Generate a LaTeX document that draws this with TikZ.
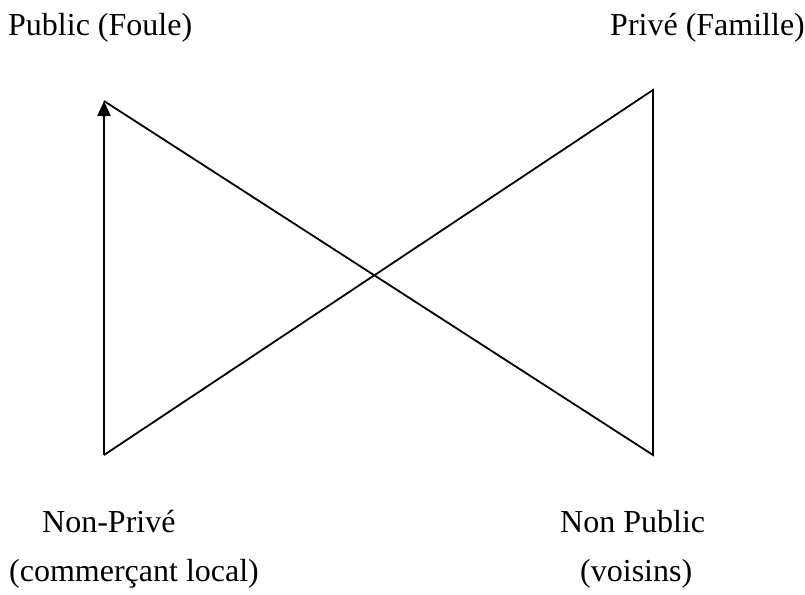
\documentclass[tikz,border=0pt]{standalone}
\usepackage{fontspec}
\setmainfont{Liberation Serif}
\usepackage{tikz}
\usetikzlibrary{arrows.meta}

\begin{document}
\begin{tikzpicture}[
  x=1pt, y=-1pt,
  font=\fontsize{32}{38}\selectfont,
  lbl/.style={anchor=base west, inner sep=0pt},
  edge/.style={line width=1.8pt, line join=miter},
  arr/.style={-{Triangle[width=13pt,length=15pt]}, line width=2.2pt}
]
\useasboundingbox (0,0) rectangle (805,594);
% corners of the bow-tie
\coordinate (pubtop) at (104,101);
\coordinate (privtop) at (653,90);
\coordinate (nonpriv) at (104,455);
\coordinate (nonpub) at (653,455);
% labels
\node[lbl] (lpub) at (8,36) {Public (Foule)};
\node[lbl] (lpriv) at (610,36) {Privé (Famille)};
\node[lbl] (lnonpriv) at (42,532) {Non-Privé};
\node[lbl] (lcomm) at (9,581) {(commerçant local)};
\node[lbl] (lnonpub) at (560,532) {Non Public};
\node[lbl] (lvois) at (580,581) {(voisins)};
% connectors
\draw[arr] (nonpriv) -- (pubtop);
\draw[edge] (pubtop) -- (nonpub) -- (privtop) -- (nonpriv);
\end{tikzpicture}
\end{document}
